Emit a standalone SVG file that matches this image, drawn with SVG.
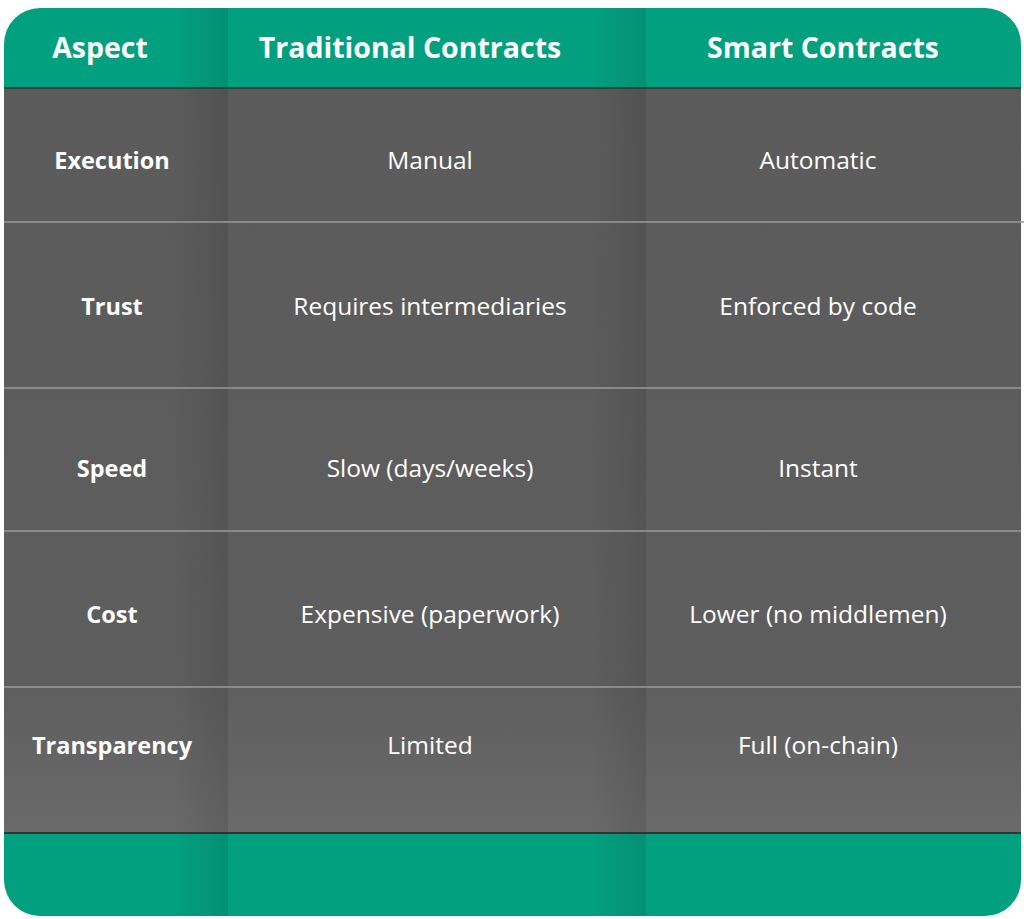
<svg xmlns="http://www.w3.org/2000/svg" width="1024" height="919" viewBox="0 0 1024 919">
<style>
.h{font-family:"Open Sans","Liberation Sans",sans-serif;font-weight:700;font-size:28.5px;fill:#fff;text-anchor:middle}
.a{font-family:"Open Sans","Liberation Sans",sans-serif;font-weight:700;font-size:23.5px;fill:#fff;text-anchor:middle}
.c{font-family:"Open Sans","Liberation Sans",sans-serif;font-size:24.5px;fill:#fff;text-anchor:middle}
.rl{stroke:#9a9a9a;stroke-width:1.5}
</style>
<defs>
<clipPath id="cp"><rect x="4" y="8" width="1017" height="908" rx="36"/></clipPath>
<linearGradient id="bg" x1="0" y1="0" x2="0" y2="1"><stop offset="0" stop-color="#5b5b5b"/><stop offset="0.8" stop-color="#5e5e5e"/><stop offset="1" stop-color="#6a6a6a"/></linearGradient>
<linearGradient id="sh" x1="0" y1="0" x2="1" y2="0"><stop offset="0" stop-color="#000" stop-opacity="0"/><stop offset="1" stop-color="#000" stop-opacity="0.1"/></linearGradient>
</defs>
<g id="table" clip-path="url(#cp)">
<rect x="4" y="8" width="1017" height="908" fill="#03a07f"/>
<rect x="4" y="88" width="1017" height="745" fill="url(#bg)"/>
<rect x="172" y="8" width="56" height="908" fill="url(#sh)"/>
<rect x="590" y="8" width="56" height="908" fill="url(#sh)"/>
<line x1="4" y1="88" x2="1021" y2="88" stroke="#1f3a33" stroke-width="1.5"/>
<line x1="4" y1="833" x2="1021" y2="833" stroke="#222" stroke-width="1.5"/>
</g>
<g id="rows">
<line class="rl" x1="4" y1="222" x2="1024" y2="222"/>
<line class="rl" x1="4" y1="388" x2="1021" y2="388"/>
<line class="rl" x1="4" y1="531" x2="1021" y2="531"/>
<line class="rl" x1="4" y1="687" x2="1021" y2="687"/>
</g>
<g id="header">
<text class="h" x="100" y="58">Aspect</text>
<text class="h" x="410" y="58">Traditional Contracts</text>
<text class="h" x="823" y="58">Smart Contracts</text>
</g>
<g id="r1"><text class="a" x="112" y="169">Execution</text><text class="c" x="430" y="169">Manual</text><text class="c" x="818" y="169">Automatic</text></g>
<g id="r2"><text class="a" x="112" y="315">Trust</text><text class="c" x="430" y="315">Requires intermediaries</text><text class="c" x="818" y="315">Enforced by code</text></g>
<g id="r3"><text class="a" x="112" y="477">Speed</text><text class="c" x="430" y="477">Slow (days/weeks)</text><text class="c" x="818" y="477">Instant</text></g>
<g id="r4"><text class="a" x="112" y="623">Cost</text><text class="c" x="430" y="623">Expensive (paperwork)</text><text class="c" x="818" y="623">Lower (no middlemen)</text></g>
<g id="r5"><text class="a" x="112" y="754">Transparency</text><text class="c" x="430" y="754">Limited</text><text class="c" x="818" y="754">Full (on-chain)</text></g>
</svg>
